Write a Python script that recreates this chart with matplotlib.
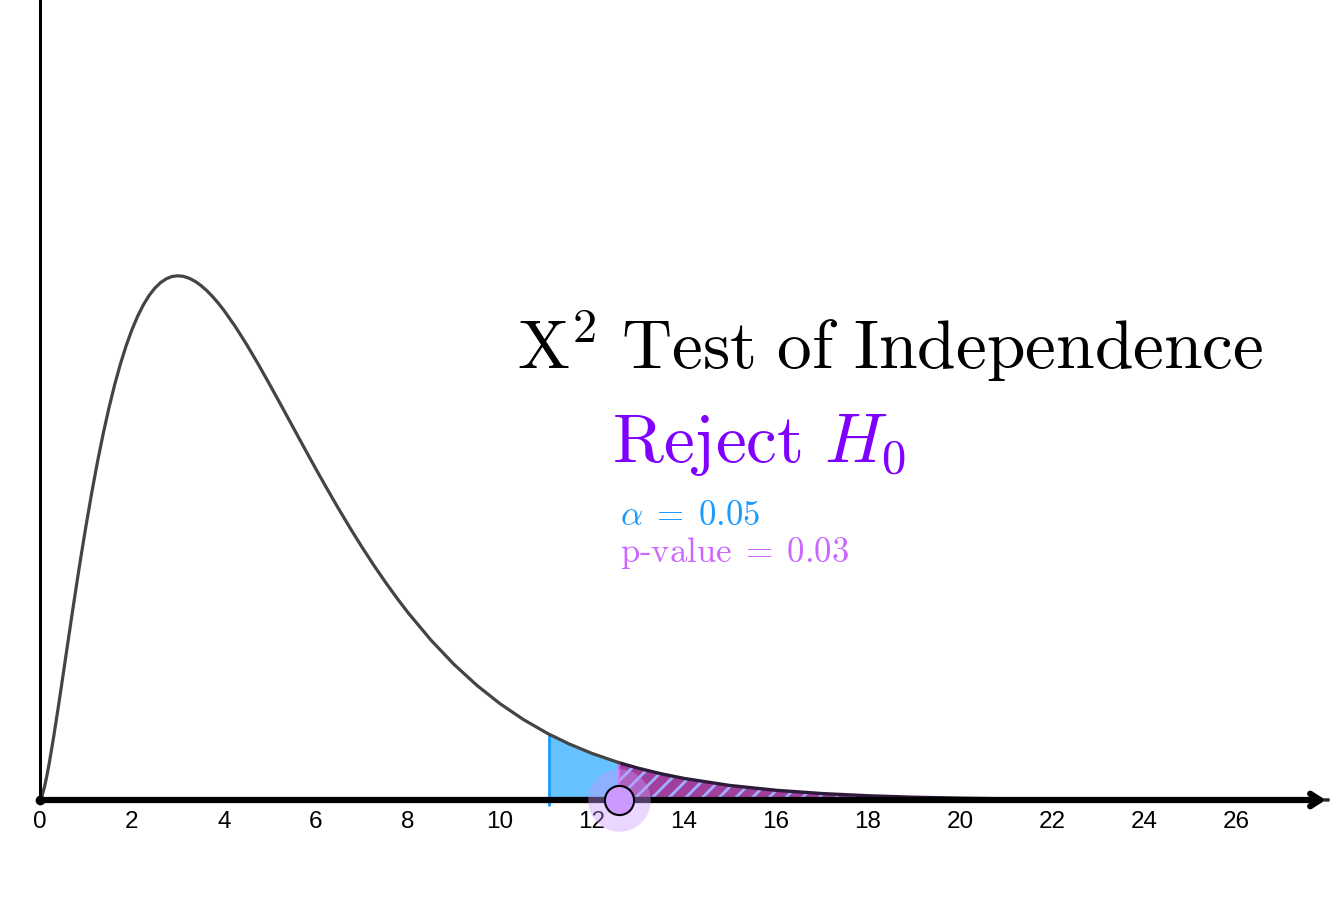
import matplotlib.pyplot as plt
from matplotlib import font_manager
import numpy as np

# chi-square density (df = 5)
chi_x = [0, 0.05, 0.1, 0.15, 0.2, 0.3, 0.4, 0.5, 0.6, 0.7, 0.8, 0.9, 1,
         1.125, 1.25, 1.375, 1.5, 1.625, 1.75, 1.875, 2, 2.125, 2.25, 2.375, 2.5,
         2.625, 2.75, 2.875, 3, 3.125, 3.25, 3.375, 3.5, 3.625, 3.75, 3.875, 4,
         4.25, 4.5, 4.75, 5, 5.25, 5.5, 5.75, 6, 6.25, 6.5, 6.75, 7, 7.25, 7.5, 7.75, 8,
         8.5, 9, 9.5, 10, 10.5, 11, 11.07, 11.5, 12, 12.59, 13, 13.5, 14, 15, 16, 17,
         18, 19, 20, 21, 22, 23, 24, 25, 26, 27, 28]
chi_y = [0, 0.00145, 0.00400, 0.00717, 0.01076, 0.01881, 0.02754, 0.03662, 0.04579,
         0.05488, 0.06378, 0.07240, 0.08066,
         0.09041, 0.09948, 0.10781, 0.11540, 0.12224, 0.12833, 0.13370, 0.13837,
         0.14236, 0.14571, 0.14845, 0.15060, 0.15222, 0.15333, 0.15399, 0.15418,
         0.15399, 0.15342, 0.15252, 0.15131, 0.14983, 0.14809, 0.14614, 0.14398,
         0.13916, 0.13380, 0.12805, 0.12204, 0.11588, 0.10966, 0.10344, 0.09730,
         0.09129, 0.08545, 0.07980, 0.07437, 0.06918, 0.06424, 0.05955, 0.05511,
         0.04701, 0.03989, 0.03369, 0.02833, 0.02374, 0.01983, 0.01933, 0.01651,
         0.01370, 0.01096, 0.00937, 0.00772, 0.00635, 0.00427, 0.00286, 0.00190,
         0.00125, 0.00082, 0.00054, 0.00035, 0.00023, 0.00015, 0.00010, 0.00006,
         0.00004, 0.00003, 0.00002]
tick_vals = [0, 2, 4, 6, 8, 10, 12, 14, 16, 18, 20, 22, 24, 26]
crit = 11.07      # alpha = 0.05 critical value
stat = 12.59      # test statistic
alpha_txt = "0.05"
p_txt = "0.03"

plt.rcParams['mathtext.fontset'] = 'cm'

# regular (not narrow) Liberation Sans for the tick numbers
tick_font = font_manager.FontProperties(family='DejaVu Sans', size=17.5)
for f in font_manager.fontManager.ttflist:
    if f.name == 'Liberation Sans' and f.style == 'normal' and f.weight in (400, 'normal') \
            and 'Narrow' not in f.fname:
        tick_font = font_manager.FontProperties(fname=f.fname, size=17.5)
        break

x = np.array(chi_x)
y = np.array(chi_y)

fig = plt.figure(figsize=(13.34, 9.02), dpi=100)
ax = fig.add_axes([0, 0, 1, 1])
ax.set_xlim(-40 / 46, (1334 - 40) / 46)
ax.set_ylim(-102 / 3400, 800 / 3400)
ax.axis('off')

def px(xp, yp):
    return (xp - 40) / 46, (800 - yp) / 3400

# shaded tails
m1 = (x >= crit) & (x <= stat)
ax.fill_between(x[m1], 0, y[m1], facecolor='#66c2ff', edgecolor='none', zorder=2)
m2 = x >= stat
plt.rcParams['hatch.linewidth'] = 2.0
ax.fill_between(x[m2], 0, y[m2], facecolor='#a0409c', edgecolor='#9fb0ff', hatch='//',
                linewidth=0, zorder=2)
ax.plot(x[m2], y[m2], color='#2e1a3a', lw=2.4, zorder=3)
ax.vlines(crit, -6 / 3400, y[x == crit][0], color='#1a9bff', lw=2, zorder=3)
ax.vlines(stat, 0, y[x == stat][0], color='#cc66ff', lw=1.5, zorder=3)

# curve
ax.plot(x[x <= stat], y[x <= stat], color='#444444', lw=2.3, zorder=3,
        solid_capstyle='round', solid_joinstyle='round')

# axes
ax.plot([0, 0], [0, 1], color='black', lw=2.2, zorder=4)
ax.annotate('', xy=(27.95, 0), xytext=(0, 0),
            arrowprops=dict(arrowstyle='->,head_length=0.7,head_width=0.45', lw=4.5,
                            color='black', shrinkA=0, shrinkB=0), zorder=4)
ax.plot(0, 0, 'o', color='black', ms=6, zorder=5)

for t in tick_vals:
    ax.text(t, -22 / 3400, str(t), ha='center', va='center', fontproperties=tick_font,
            color='black', zorder=3)

# test statistic point
ax.plot(stat, 0, 'o', ms=45, color='#cc99ff', alpha=0.4, mec='none', zorder=6)
ax.plot(stat, 0, 'o', ms=21, color='#cc99ff', mec='black', mew=1.5, zorder=7)

# labels
tx, ty = px(517, 369)
ax.text(tx, ty, r'$\mathrm{X}^2\ \mathrm{Test\ of\ Independence}$', fontsize=50,
        ha='left', va='baseline', color='black')
tx, ty = px(612, 462)
ax.text(tx, ty, r'$\mathrm{Reject}\ H_0$', fontsize=50, ha='left', va='baseline',
        color='#7f00ff')
tx, ty = px(620, 525)
ax.text(tx, ty, r'$\alpha\;=\;%s$' % alpha_txt, fontsize=25, ha='left', va='baseline',
        color='#1a9bff')
tx, ty = px(620, 562)
ax.text(tx, ty, r'$\mathrm{p\text{-}value}\;=\;%s$' % p_txt, fontsize=25, ha='left',
        va='baseline', color='#cc66ff')

fig.savefig('out.png', dpi=100)
